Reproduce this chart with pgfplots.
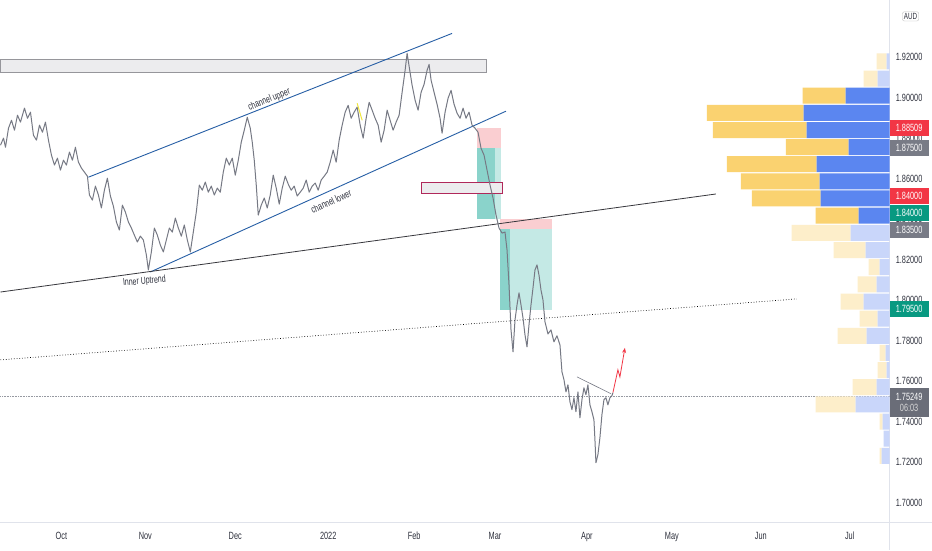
\documentclass[border=0pt]{standalone}
\usepackage{pgfplots}
\pgfplotsset{compat=1.18}
\usepackage{pgfplotstable}
\usepackage{fontspec}
\setmainfont{Liberation Sans}[FakeStretch=0.7]
\usetikzlibrary{arrows.meta,backgrounds}
\definecolor{axisgray}{RGB}{224,227,235}
\definecolor{tick}{RGB}{45,48,60}
\definecolor{vpblue}{RGB}{91,134,240}
\definecolor{vpblueF}{RGB}{201,214,250}
\definecolor{vpyel}{RGB}{250,210,112}
\definecolor{vpyelF}{RGB}{253,238,202}
\definecolor{chan}{RGB}{38,94,165}
\definecolor{trend}{RGB}{55,55,60}
\definecolor{pricegray}{RGB}{118,121,132}
\definecolor{lastgray}{RGB}{150,153,161}
\definecolor{pinkbox}{RGB}{250,206,209}
\definecolor{tealdark}{RGB}{138,211,203}
\definecolor{teallight}{RGB}{196,233,229}
\definecolor{zonefill}{RGB}{236,236,238}
\definecolor{zoneedge}{RGB}{150,150,155}
\definecolor{magedge}{RGB}{176,40,90}
\definecolor{tvred}{RGB}{242,54,69}
\definecolor{tvgreen}{RGB}{8,153,129}
\definecolor{tvgray}{RGB}{120,123,134}
\definecolor{tvlast}{RGB}{106,109,120}
\definecolor{lbl}{RGB}{45,48,60}
\definecolor{yelline}{RGB}{240,230,60}

\pgfplotstableread{
y sb fb sy fy
1.9180 0 3 0 10
1.9095 0 12 0 14
1.9011 44 0 43 0
1.8926 86 0 97 0
1.8841 83 0 94 0
1.8757 41 0 63 0
1.8672 73 0 90 0
1.8587 70 0 79 0
1.8503 69 0 69 0
1.8418 31 0 43 0
1.8333 0 39 0 59
1.8248 0 24 0 32
1.8164 0 10 0 11
1.8079 0 13 0 19
1.7994 0 26 0 23
1.7910 0 12 0 18
1.7825 0 23 0 29
1.7740 0 4 0 6
1.7655 0 3 0 9
1.7571 0 13 0 24
1.7486 0 34 0 40
1.7401 0 7 0 3
1.7317 0 6 0 0
1.7232 0 8 0 2
}\vp

\pgfplotstableread{
x p
0 1.8766
3 1.8801
5 1.8756
8 1.8850
11 1.8889
14 1.8840
17 1.8914
20 1.8880
24 1.8949
27 1.8899
30 1.8929
33 1.8815
36 1.8791
39 1.8865
42 1.8830
45 1.8880
48 1.8791
51 1.8717
54 1.8668
57 1.8702
60 1.8643
63 1.8692
66 1.8668
69 1.8732
72 1.8692
75 1.8756
78 1.8682
81 1.8653
84 1.8633
87 1.8613
89 1.8520
92 1.8495
95 1.8564
98 1.8520
101 1.8456
104 1.8544
107 1.8603
110 1.8515
113 1.8465
116 1.8387
119 1.8347
122 1.8470
125 1.8436
128 1.8387
131 1.8357
134 1.8322
137 1.8288
140 1.8317
143 1.8298
146 1.8224
148 1.8150
151 1.8239
154 1.8357
157 1.8322
160 1.8273
163 1.8239
166 1.8298
169 1.8357
172 1.8337
175 1.8406
178 1.8357
181 1.8317
184 1.8372
187 1.8298
190 1.8239
193 1.8337
196 1.8436
199 1.8569
202 1.8544
205 1.8584
208 1.8534
211 1.8564
214 1.8520
217 1.8554
220 1.8534
223 1.8633
226 1.8702
229 1.8668
232 1.8702
235 1.8618
238 1.8692
241 1.8781
244 1.8840
247 1.8904
250 1.8850
252 1.8781
254 1.8692
256 1.8569
258 1.8421
261 1.8470
264 1.8505
267 1.8456
270 1.8520
273 1.8618
276 1.8554
279 1.8475
282 1.8554
285 1.8613
288 1.8574
291 1.8544
294 1.8564
297 1.8515
300 1.8534
303 1.8554
306 1.8594
309 1.8534
312 1.8564
315 1.8579
318 1.8544
321 1.8594
324 1.8613
327 1.8633
330 1.8682
333 1.8742
336 1.8682
339 1.8791
342 1.8865
345 1.8929
348 1.8963
351 1.8899
354 1.8929
357 1.8954
360 1.8865
363 1.8801
366 1.8899
369 1.8978
372 1.8939
375 1.8899
378 1.8865
381 1.8781
384 1.8840
387 1.8939
390 1.8889
393 1.8840
396 1.8880
399 1.8914
402 1.9027
405 1.9136
407 1.9220
409 1.9156
412 1.9062
415 1.8988
418 1.8939
421 1.9027
424 1.9067
427 1.9136
429 1.9165
431 1.9087
434 1.9027
437 1.8968
440 1.8899
442 1.8825
445 1.8929
448 1.8998
451 1.9037
454 1.8968
457 1.8924
460 1.8899
463 1.8949
466 1.8899
469 1.8929
472 1.8865
475 1.8850
478 1.8830
481 1.8751
484 1.8717
487 1.8643
490 1.8569
493 1.8505
496 1.8421
499 1.8357
502 1.8332
505 1.8337
507 1.8249
509 1.8076
511 1.7854
513 1.7746
515 1.7903
517 1.7977
519 1.8037
521 1.7977
523 1.7913
525 1.7829
527 1.7770
529 1.7879
531 1.7977
533 1.8061
535 1.8150
537 1.8175
539 1.8125
541 1.8051
543 1.8002
545 1.7894
548 1.7834
551 1.7854
554 1.7795
557 1.7825
560 1.7780
562 1.7647
564 1.7608
566 1.7548
568 1.7583
570 1.7499
572 1.7460
574 1.7519
576 1.7450
578 1.7548
580 1.7420
582 1.7509
584 1.7568
586 1.7534
588 1.7583
590 1.7484
592 1.7450
594 1.7410
595 1.7312
596 1.7198
598 1.7238
600 1.7322
602 1.7435
604 1.7509
606 1.7519
608 1.7484
610 1.7519
612 1.7529
613 1.7544
}\price

\begin{document}
\begin{tikzpicture}[show background rectangle, inner frame sep=0pt,
  background rectangle/.style={fill=white, draw=none}]

\begin{axis}[width=890pt, height=523pt,
  scale only axis, clip=false, xmin=0, xmax=890, ymin=1.6901, ymax=1.9481,
  axis x line*=bottom, axis y line*=right,
  axis line style={draw=axisgray, line width=0.8pt, -},
  major tick length=0pt,
  ytick={1.70,1.72,1.74,1.76,1.78,1.80,1.82,1.84,1.86,1.88,1.90,1.92},
  yticklabel pos=right,
  y tick label style={/pgf/number format/.cd, fixed, fixed zerofill, precision=5, assume math mode=true, /tikz/.cd,
     font=\fontsize{10.5}{12}\selectfont, text=tick, anchor=west, inner sep=0pt, xshift=6pt},
  xtick={61,145,235,328,414,495,587,672,761,850},
  xticklabels={Oct,Nov,Dec,2022,Feb,Mar,Apr,May,Jun,Jul},
  x tick label style={font=\fontsize{10.5}{12}\selectfont, text=tick, inner sep=0pt, anchor=north, yshift=-9pt},
]
% page frame (sets the picture size)
\path (axis cs:0,1.6768) rectangle (axis cs:932,1.9481);
\coordinate (bl) at (axis cs:0,1.6901);
% supply zone
\addplot[fill=zonefill, draw=zoneedge, line width=0.6pt] coordinates {(0,1.9190) (486,1.9190) (486,1.9126) (0,1.9126)} -- cycle;
% position boxes
\addplot[fill=pinkbox, draw=none] coordinates {(477,1.88509) (501,1.88509) (501,1.875) (477,1.875)} -- cycle;
\addplot[fill=tealdark, draw=none] coordinates {(477,1.875) (495,1.875) (495,1.840) (477,1.840)} -- cycle;
\addplot[fill=teallight, draw=none] coordinates {(495,1.875) (501,1.875) (501,1.840) (495,1.840)} -- cycle;
\addplot[fill=pinkbox, draw=none] coordinates {(500,1.840) (552,1.840) (552,1.835) (500,1.835)} -- cycle;
\addplot[fill=tealdark, draw=none] coordinates {(500,1.835) (510,1.835) (510,1.795) (500,1.795)} -- cycle;
\addplot[fill=teallight, draw=none] coordinates {(510,1.835) (552,1.835) (552,1.795) (510,1.795)} -- cycle;
% magenta zone
\addplot[fill=zonefill, draw=magedge, line width=0.8pt] coordinates {(421,1.8584) (502,1.8584) (502,1.8530) (421,1.8530)} -- cycle;
% trend lines
\addplot[chan, line width=0.9pt] coordinates {(88,1.8608) (452,1.9318)};
\addplot[chan, line width=0.9pt] coordinates {(150,1.8140) (506,1.8934)};
\addplot[trend, line width=0.8pt] coordinates {(0,1.8041) (716,1.8525)};
\addplot[black, dotted, line width=0.7pt] coordinates {(0,1.7706) (797,1.8007)};
\addplot[lastgray, densely dotted, line width=0.6pt] coordinates {(0,1.75249) (890,1.75249)};
% price
\addplot[pricegray, line width=1.0pt, line join=round] table[x=x,y=p]{\price};
\addplot[yelline, line width=1pt] coordinates {(357,1.8973) (362,1.8889)};
\addplot[pricegray, line width=0.6pt] coordinates {(577,1.7622) (611,1.7539)};
\addplot[tvred, line width=0.8pt, -{Stealth[length=5pt,width=4pt]}] coordinates {(613,1.7544) (618,1.7657) (620,1.7622) (625,1.7765)};
% labels
\node[font=\fontsize{10}{12}\selectfont, text=lbl, rotate=21.6] at (axis cs:269,1.8990) {channel upper};
\node[font=\fontsize{10}{12}\selectfont, text=lbl, rotate=24.3] at (axis cs:331,1.8488) {channel lower};
\node[font=\fontsize{10}{12}\selectfont, text=lbl, rotate=5] at (axis cs:144,1.8093) {Inner Uptrend};
% scale corner lines
\draw[axisgray, line width=0.8pt] (axis cs:890,1.6901) -- (axis cs:890,1.6768);
\draw[axisgray, line width=0.8pt] (axis cs:890,1.6901) -- (axis cs:932,1.6901);
% price labels on the scale
\tikzset{plbl/.style={text=white, minimum width=39pt, minimum height=15.5pt, inner sep=0pt, font=\fontsize{10.5}{12}\selectfont}}
\node[plbl, fill=tvred] at (axis cs:909.5,1.88509) {1.88509};
\node[plbl, fill=tvgray] at (axis cs:909.5,1.8751) {1.87500};
\node[plbl, fill=tvred] at (axis cs:909.5,1.8515) {1.84000};
\node[plbl, fill=tvgreen] at (axis cs:909.5,1.8431) {1.84000};
\node[plbl, fill=tvgray] at (axis cs:909.5,1.8347) {1.83500};
\node[plbl, fill=tvgreen] at (axis cs:909.5,1.7958) {1.79500};
\node[plbl, fill=tvlast, minimum height=29pt, align=center] at (axis cs:909.5,1.7497) {1.75249\\[-1pt]{\color{white!85!black}06:03}};
\node[draw=black!25, rounded corners=2pt, fill=white, inner sep=1.5pt, font=\fontsize{9}{10}\selectfont, text=tick] at (axis cs:911,1.9402) {AUD};
\end{axis}

% volume profile, aligned on the price axis box
\begin{axis}[at={(bl)}, anchor=south west, width=890pt, height=523pt,
  scale only axis, xmin=0, xmax=890, x dir=reverse,
  ymin=1.6901, ymax=1.9481, axis lines=none, ticks=none,
  xbar stacked, bar width=0.0079]
\addplot[fill=vpblue, draw=none] table[x=sb,y=y]{\vp};
\addplot[fill=vpblueF, draw=none] table[x=fb,y=y]{\vp};
\addplot[fill=vpyel, draw=none] table[x=sy,y=y]{\vp};
\addplot[fill=vpyelF, draw=none] table[x=fy,y=y]{\vp};
\end{axis}
\end{tikzpicture}
\end{document}
